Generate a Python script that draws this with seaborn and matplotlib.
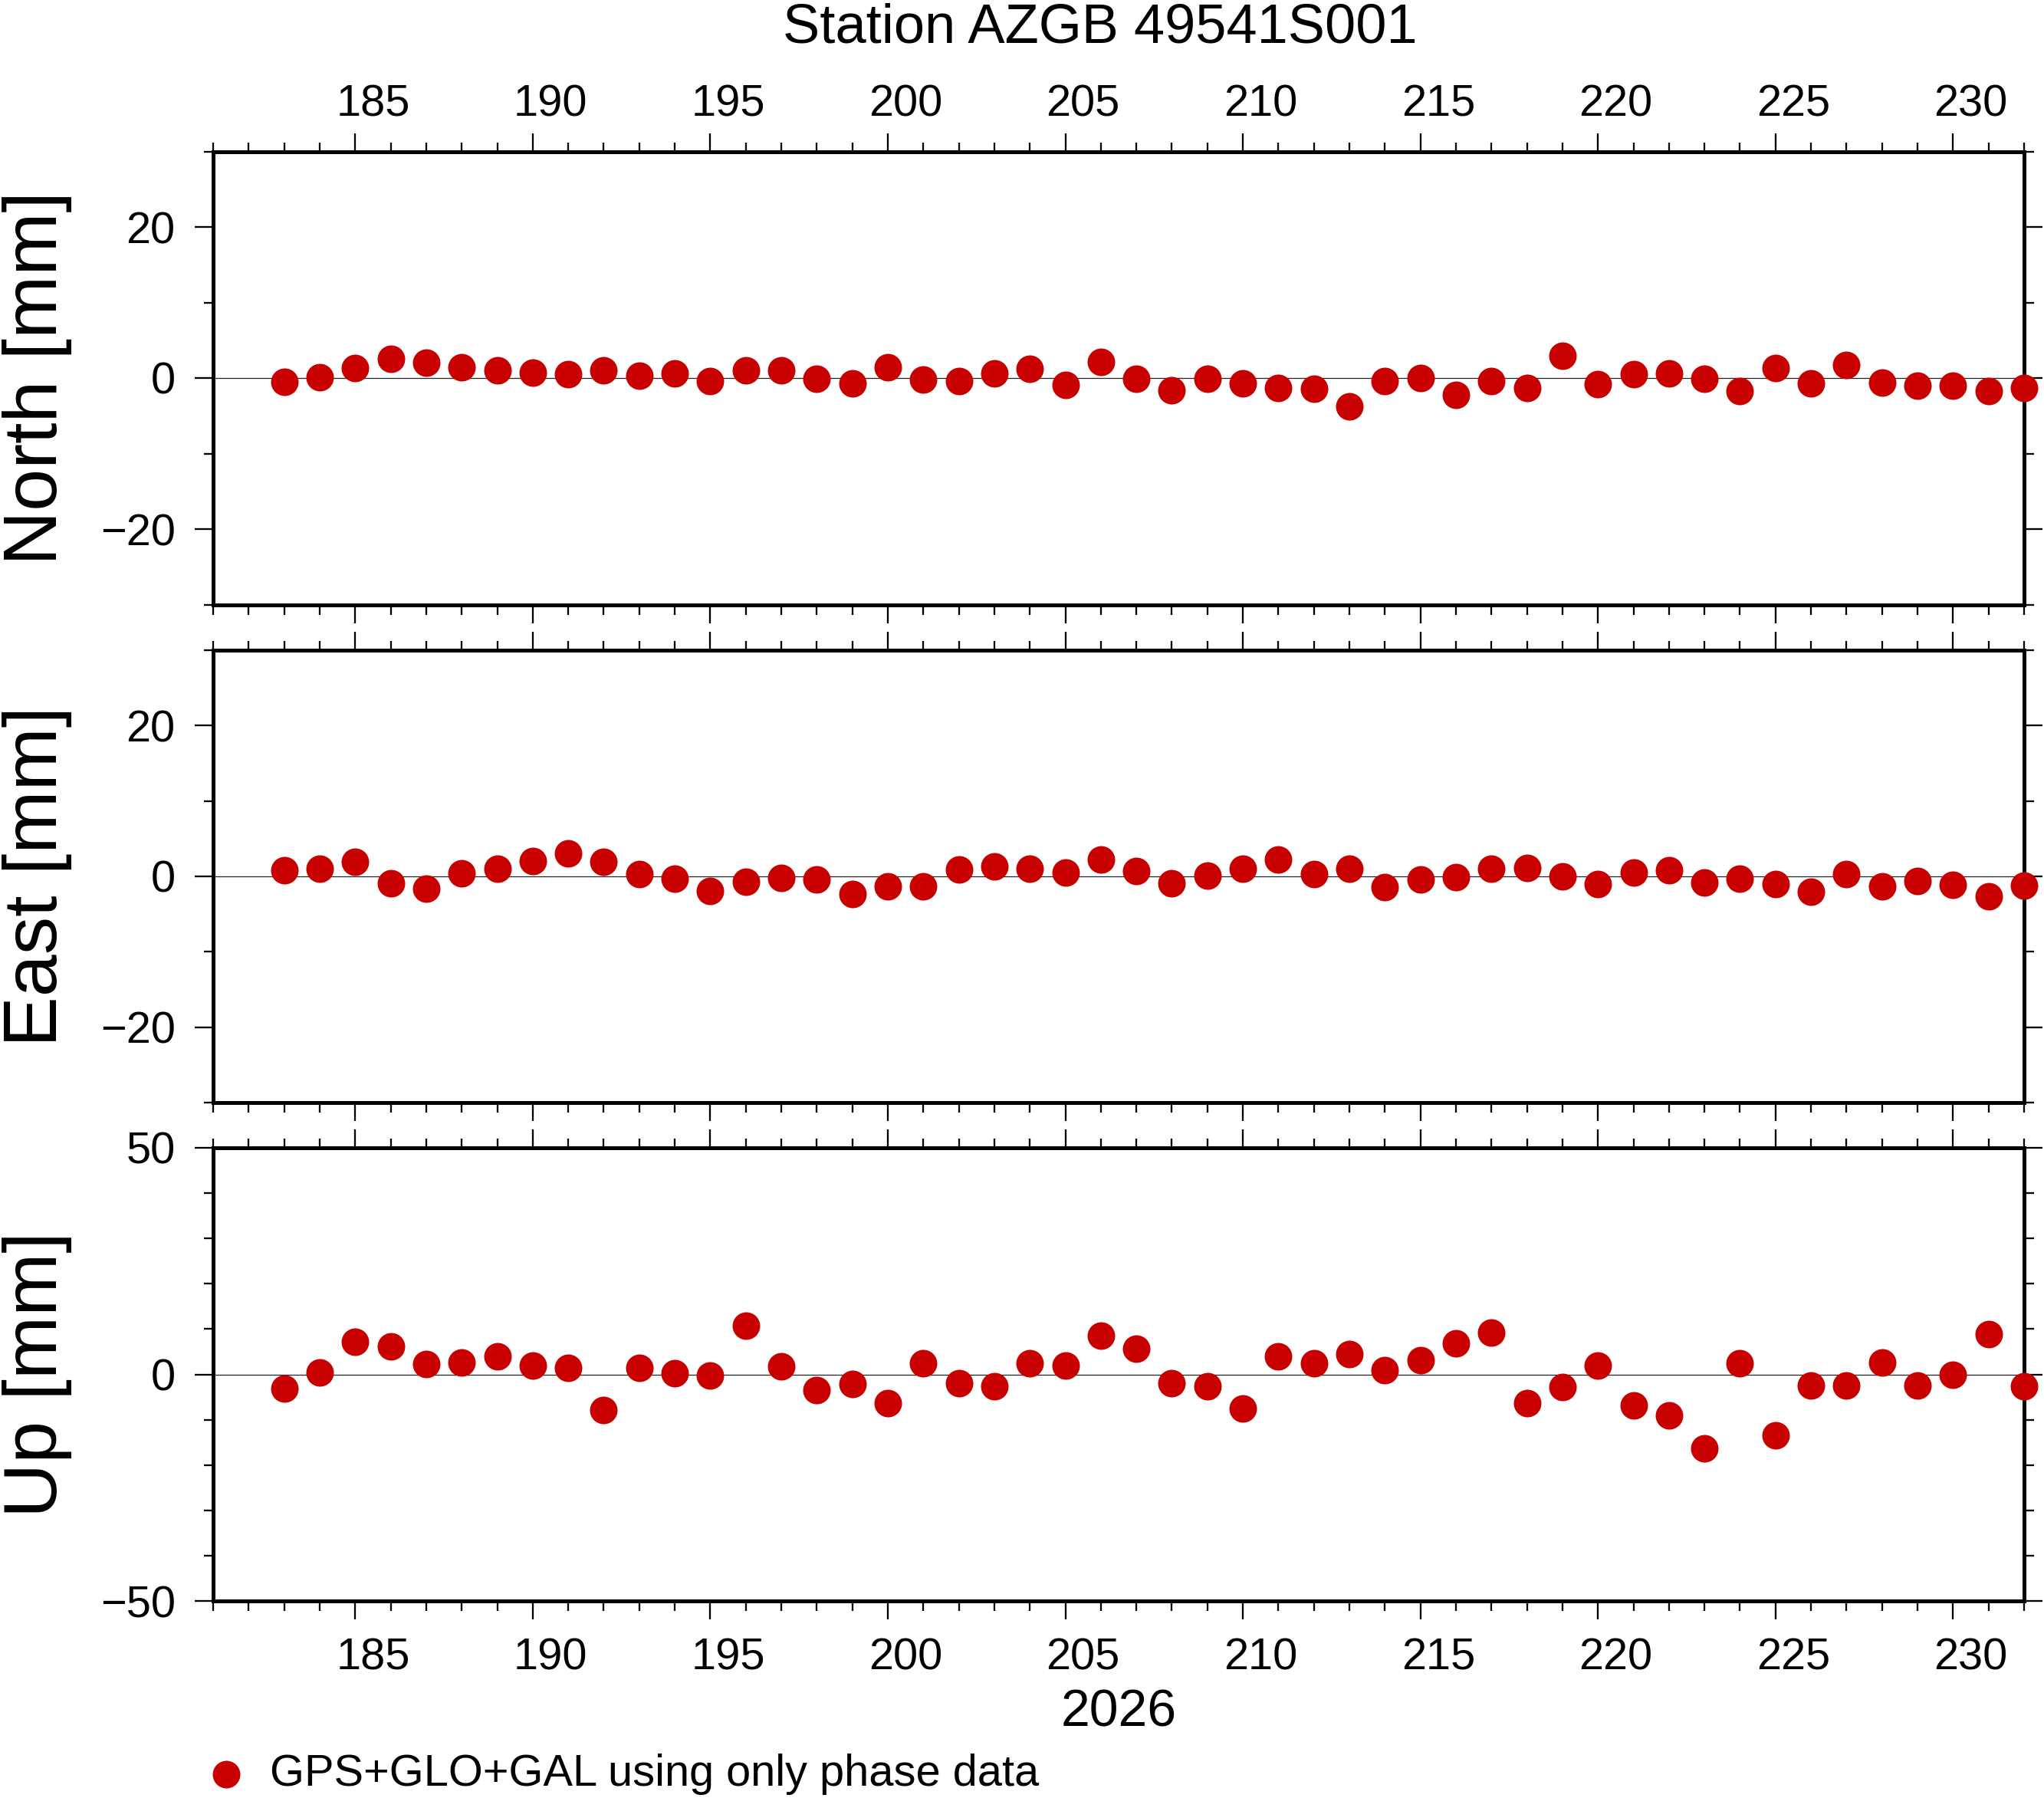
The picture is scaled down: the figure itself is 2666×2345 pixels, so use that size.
import numpy as np
import pandas as pd
import matplotlib
matplotlib.use("Agg")
import matplotlib.pyplot as plt
from matplotlib.ticker import MultipleLocator
from matplotlib.transforms import ScaledTranslation
import seaborn as sns

# day of year 2026
doy = list(range(183, 233))

north = [-0.5, 0.1, 1.3, 2.5, 2.0, 1.4, 1.0, 0.7, 0.5, 1.0,
         0.3, 0.6, -0.4, 1.0, 1.0, -0.1, -0.7, 1.4, -0.2, -0.4,
         0.6, 1.2, -0.9, 2.1, -0.1, -1.6, -0.1, -0.7, -1.3, -1.4,
         -3.8, -0.4, 0.0, -2.2, -0.4, -1.3, 2.9, -0.8, 0.5, 0.6,
         -0.1, -1.7, 1.3, -0.7, 1.7, -0.6, -1.0, -1.0, -1.7, -1.3]

east = [0.8, 1.0, 1.9, -0.9, -1.6, 0.4, 1.0, 2.0, 3.0, 1.9,
        0.3, -0.3, -1.9, -0.7, -0.2, -0.4, -2.3, -1.3, -1.3, 0.9,
        1.3, 1.0, 0.5, 2.2, 0.7, -0.9, 0.1, 1.0, 2.2, 0.3,
        1.0, -1.4, -0.4, -0.1, 1.0, 1.1, 0.0, -1.0, 0.5, 0.8,
        -0.8, -0.3, -1.0, -2.0, 0.3, -1.3, -0.6, -1.1, -2.6, -1.2]

up = [-3.2, 0.5, 7.2, 6.1, 2.2, 2.7, 3.9, 2.0, 1.5, -7.8,
      1.4, 0.2, -0.3, 10.8, 1.7, -3.5, -2.1, -6.4, 2.5, -1.9,
      -2.7, 2.4, 1.9, 8.6, 5.6, -1.9, -2.7, -7.6, 3.9, 2.4,
      4.4, 1.0, 3.1, 6.9, 9.2, -6.3, -2.8, 1.9, -6.8, -9.0,
      -16.4, 2.4, -13.4, -2.5, -2.5, 2.7, -2.5, -0.1, 8.9, -2.7]

components = ['North', 'East', 'Up']
ylims = {'North': (-30, 30), 'East': (-30, 30), 'Up': (-50, 50)}
ymajor = {'North': 20, 'East': 20, 'Up': 50}
title = 'Station AZGB 49541S001'
year_label = '2026'
legend_label = 'GPS+GLO+GAL using only phase data'

df = pd.DataFrame({'doy': doy, 'North': north, 'East': east, 'Up': up})

sns.set_style("ticks")
plt.rcParams['font.family'] = ['Liberation Sans', 'DejaVu Sans']
plt.rcParams.update({'text.color': 'black', 'axes.labelcolor': 'black',
                     'xtick.color': 'black', 'ytick.color': 'black',
                     'axes.edgecolor': 'black'})

W, H = 2666, 2345
fig = plt.figure(figsize=(W / 100, H / 100), dpi=100)

# panel boxes in pixels (top, bottom)
left_px, right_px = 278, 2640
boxes = [(197.5, 788.5), (848, 1438), (1497, 2088)]

dot_color = '#c80000'
tick_fs = 41.6

# GMT puts the day annotations in the middle of the day interval
half_day_px = 0.5 * (right_px - left_px) / (232 - 181)
label_shift = ScaledTranslation(half_day_px / 100, 0, fig.dpi_scale_trans)

axes = []
for i, comp in enumerate(components):
    top, bot = boxes[i]
    ax = fig.add_axes([left_px / W, 1 - bot / H, (right_px - left_px) / W, (bot - top) / H])
    axes.append(ax)

    ax.axhline(0, color='#222222', lw=0.9, zorder=1)
    sns.scatterplot(data=df, x='doy', y=comp, ax=ax, color=dot_color, s=671,
                    linewidth=0, clip_on=False, zorder=5,
                    label=legend_label if i == 0 else None)
    if ax.get_legend() is not None:
        ax.get_legend().remove()

    ax.set_xlim(181, 232)
    ax.set_ylim(*ylims[comp])
    ax.xaxis.set_major_locator(MultipleLocator(5))
    ax.xaxis.set_minor_locator(MultipleLocator(1))
    ax.yaxis.set_major_locator(MultipleLocator(ymajor[comp]))
    ax.yaxis.set_minor_locator(MultipleLocator(10))

    for sp in ax.spines.values():
        sp.set_linewidth(3.6)
        sp.set_color('black')
        sp.set_visible(True)

    ax.tick_params(which='both', direction='out', top=True, bottom=True,
                   left=True, right=True, width=1.65, color='black')
    ax.tick_params(which='major', length=17.5)
    ax.tick_params(which='minor', length=9)
    ax.tick_params(axis='y', labelsize=tick_fs, pad=18, labelright=False)
    ax.tick_params(axis='x', labelsize=tick_fs,
                   labeltop=(i == 0), labelbottom=(i == 2),
                   pad=7 if i == 0 else 17)

    ax.set_xlabel('')
    ax.set_ylabel(f'{comp} [mm]', fontsize=71)
    ax.yaxis.set_label_coords(-(left_px - 94) / (right_px - left_px), 0.5)

    for t in ax.xaxis.get_major_ticks():
        t.label1.set_transform(t.label1.get_transform() + label_shift)
        t.label2.set_transform(t.label2.get_transform() + label_shift)

axes[2].set_xlabel(year_label, fontsize=49, labelpad=8)

fig.text(1435 / W, 1 - 55 / H, title, ha='center', va='baseline', fontsize=52)

handles, labels = axes[0].get_legend_handles_labels()
fig.legend(handles, labels, loc='center left', bbox_to_anchor=(266 / W, 1 - 2314 / H),
           frameon=False, fontsize=tick_fs, handlelength=1.0, handletextpad=0.48,
           borderpad=0, borderaxespad=0, scatterpoints=1)

fig.savefig('out.png', dpi=100)
